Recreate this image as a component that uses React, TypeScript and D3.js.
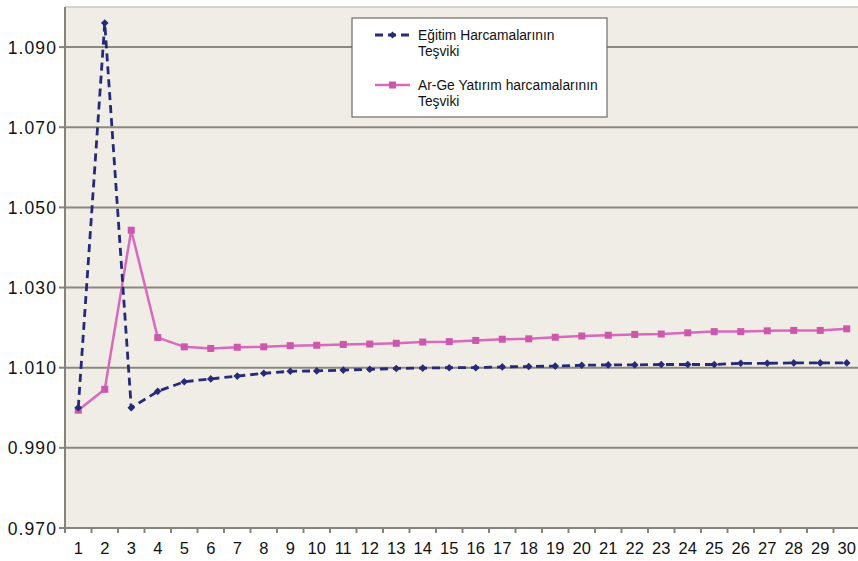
import React from "react";
import * as d3 from "d3";

// Periods on the horizontal axis
const periods: string[] = Array.from({ length: 30 }, (_, i) => String(i + 1));

// Eğitim Harcamalarının Teşviki
const egitim: number[] = [
  1.0, 1.096, 1.0, 1.0041, 1.0065, 1.0072, 1.0079, 1.0086, 1.0091, 1.0092,
  1.0094, 1.0096, 1.0098, 1.0099, 1.01, 1.01, 1.0102, 1.0103, 1.0104, 1.0106,
  1.0107, 1.0107, 1.0108, 1.0108, 1.0108, 1.0111, 1.0111, 1.0112, 1.0112, 1.0112,
];

// Ar-Ge Yatırım harcamalarının Teşviki
const arge: number[] = [
  0.9994, 1.0046, 1.0443, 1.0175, 1.0152, 1.0148, 1.0151, 1.0152, 1.0155, 1.0156,
  1.0158, 1.0159, 1.0161, 1.0164, 1.0165, 1.0168, 1.0171, 1.0172, 1.0176, 1.0179,
  1.0181, 1.0183, 1.0184, 1.0187, 1.019, 1.019, 1.0192, 1.0193, 1.0193, 1.0197,
];

const yTicks: number[] = [0.97, 0.99, 1.01, 1.03, 1.05, 1.07, 1.09];

const legendLines1: string[] = ["Eğitim Harcamalarının", "Teşviki"];
const legendLines2: string[] = ["Ar-Ge Yatırım harcamalarının", "Teşviki"];

const W = 858;
const H = 561;
const left = 65;
const right = 860;
const top = 7;
const bottom = 528;

const NAVY = "#262A78";
const PINK = "#DA68BC";
const PINK_MARK = "#CC58AC";
const FONT = "'Liberation Sans', Arial, sans-serif";

export default function App() {
  const x = d3.scaleBand<string>().domain(periods).range([left, right]);
  const y = d3.scaleLinear().domain([0.97, 1.1]).range([bottom, top]);
  const cx = (i: number) => (x(periods[i]) as number) + x.bandwidth() / 2;

  const line = d3
    .line<number>()
    .x((_, i) => cx(i))
    .y((d) => y(d));

  const diamond = (px: number, py: number, r: number) =>
    `M${px},${py - r}L${px + r},${py}L${px},${py + r}L${px - r},${py}Z`;

  const fmt = d3.format(".3f");

  return (
    <svg
      width={W}
      height={H}
      style={{ position: "absolute", left: 0, top: 0, background: "#fff" }}
    >
      {/* plot background */}
      <rect x={left} y={top} width={right - left} height={bottom - top} fill="#F0EDE6" />
      <line x1={left} x2={right} y1={top} y2={top} stroke="#C9C7C2" strokeWidth={1.5} />

      {/* gridlines */}
      {yTicks.slice(1).map((t) => (
        <line key={t} x1={left} x2={right} y1={y(t)} y2={y(t)} stroke="#8A8882" strokeWidth={2} />
      ))}

      {/* axes */}
      <line x1={left} x2={left} y1={top} y2={bottom} stroke="#85837E" strokeWidth={2} />
      <line x1={left} x2={right} y1={bottom} y2={bottom} stroke="#85837E" strokeWidth={2} />
      {yTicks.map((t) => (
        <line key={"yt" + t} x1={left - 6} x2={left} y1={y(t)} y2={y(t)} stroke="#85837E" strokeWidth={2} />
      ))}
      {periods.map((p) => (
        <line
          key={"xt" + p}
          x1={x(p) as number}
          x2={x(p) as number}
          y1={bottom}
          y2={bottom + 5}
          stroke="#85837E"
          strokeWidth={2}
        />
      ))}

      {/* y labels */}
      {yTicks.map((t) => (
        <text
          key={"yl" + t}
          x={57}
          y={y(t) + 6.5}
          textAnchor="end"
          fontFamily={FONT}
          fontSize={17.5}
          letterSpacing={1.1}
          fill="#111"
        >
          {fmt(t)}
        </text>
      ))}

      {/* x labels */}
      {periods.map((p, i) => (
        <text
          key={"xl" + p}
          x={cx(i)}
          y={554}
          textAnchor="middle"
          fontFamily={FONT}
          fontSize={16.5}
          fill="#111"
        >
          {p}
        </text>
      ))}

      {/* Ar-Ge series */}
      <path d={line(arge) || ""} fill="none" stroke={PINK} strokeWidth={2.5} />
      {arge.map((v, i) => (
        <rect key={"a" + i} x={cx(i) - 3.5} y={y(v) - 3.5} width={7} height={7} fill={PINK_MARK} />
      ))}

      {/* Eğitim series */}
      <path
        d={line(egitim) || ""}
        fill="none"
        stroke={NAVY}
        strokeWidth={2.8}
        strokeDasharray="8 5"
      />
      {egitim.map((v, i) => (
        <path key={"e" + i} d={diamond(cx(i), y(v), 3.8)} fill={NAVY} />
      ))}

      {/* legend */}
      <rect x={352} y={18} width={255} height={99} fill="#fff" stroke="#6E6C68" strokeWidth={1.2} />
      <line x1={375} x2={410} y1={35} y2={35} stroke={NAVY} strokeWidth={2.8} strokeDasharray="8 5" />
      <path d={diamond(392.5, 35, 3.6)} fill={NAVY} />
      {legendLines1.map((s, i) => (
        <text key={"l1" + i} x={418} y={40 + i * 16} fontFamily={FONT} fontSize={13.8} fill="#111">
          {s}
        </text>
      ))}
      <line x1={375} x2={410} y1={85} y2={85} stroke={PINK} strokeWidth={2.5} />
      <rect x={389} y={81.5} width={7} height={7} fill={PINK_MARK} />
      {legendLines2.map((s, i) => (
        <text key={"l2" + i} x={418} y={90 + i * 16} fontFamily={FONT} fontSize={13.8} fill="#111">
          {s}
        </text>
      ))}
    </svg>
  );
}
